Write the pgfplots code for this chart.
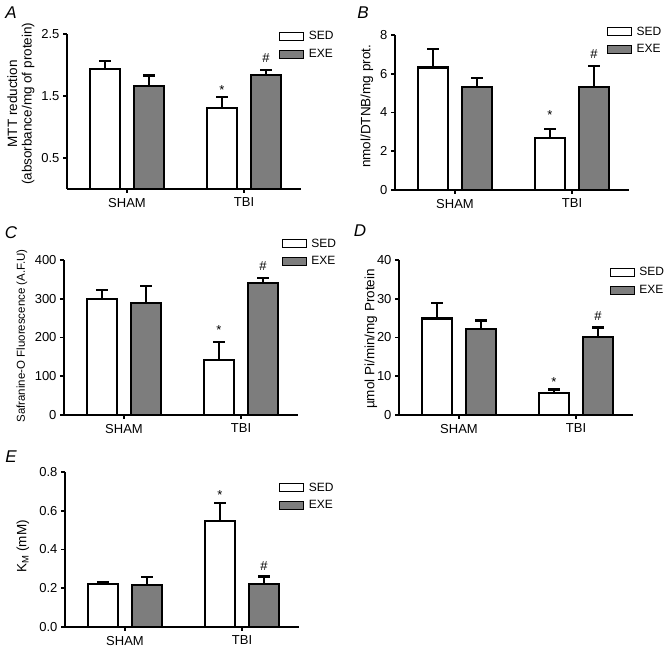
\documentclass[border=0pt]{standalone}
\usepackage{pgfplots}
\pgfplotsset{compat=1.18}
\usepackage{fontspec}
\setmainfont{Liberation Sans}
\definecolor{exegray}{RGB}{125,125,125}
\newcommand{\tickfont}{\fontsize{13}{15}\selectfont}
\newcommand{\labfont}{\fontsize{13.5}{14.5}\selectfont}
\pgfplotsset{
  panel/.style={
    scale only axis, width=234pt, height=155pt,
    axis x line=bottom, axis y line=left,
    axis line style={line width=2pt, -},
    xmin=0, xmax=234, xtick={60,177}, xticklabels={SHAM,TBI},
    tick align=outside, major tick length=4pt,
    tick style={line width=1.8pt, black},
    ymin=0,
    /pgf/number format/assume math mode=true,
    ticklabel style={font=\tickfont},
    xticklabel style={yshift=-1.5pt},
    label style={font=\labfont, align=center},
    legend style={draw=none, fill=none, font=\fontsize{12}{14}\selectfont, inner sep=0pt,
      row sep=4pt, anchor=north west, legend cell align=left},
    error bars/y dir=plus, error bars/y explicit,
    error bars/error bar style={line width=2.2pt, black},
    error bars/error mark options={rotate=90, mark size=6pt, line width=2.2pt, black},
    clip=false,
  },
  sed/.style={ybar, bar width=30, bar shift=0pt, fill=white, draw=black, line width=2.2pt,
    legend image code/.code={\draw[fill=white, draw=black, line width=0.9pt] (0pt,-4pt) rectangle (24pt,4pt); \path (26pt,0pt);}},
  exe/.style={ybar, bar width=30, bar shift=0pt, fill=exegray, draw=black, line width=2.2pt,
    legend image code/.code={\draw[fill=exegray, draw=black, line width=0.9pt] (0pt,-4pt) rectangle (24pt,4pt); \path (26pt,0pt);}},
}
\begin{document}
\begin{tikzpicture}
\useasboundingbox (0,0) rectangle (667pt,650pt);
% Panel A
\begin{axis}[panel, at={(67pt,461pt)}, anchor=south west, ymax=2.5, ytick={0.5,1.5,2.5},
  ylabel={MTT reduction\\(absorbance/mg of protein)},
  ylabel style={at={(axis description cs:-0.197,0.55)}, anchor=center},
  legend style={at={(axis description cs:0.906,1.03)}}]
\addplot[sed] coordinates {(38,1.94) +- (0,0.12) (155,1.30) +- (0,0.19)};
\addplot[exe] coordinates {(82,1.66) +- (0,0.17) (199,1.84) +- (0,0.08)};
\legend{SED,EXE}
\node[font=\tickfont, yshift=-2pt] at (axis cs:155,1.63) {*};
\node[font=\tickfont] at (axis cs:199,2.11) {\#};
\end{axis}
% Panel B
\begin{axis}[panel, at={(395pt,460pt)}, anchor=south west, ymax=8, ytick={0,2,4,6,8},
  ylabel={nmol/DTNB/mg prot.},
  ylabel style={at={(axis description cs:-0.12,0.54)}, anchor=center},
  legend style={at={(axis description cs:0.905,1.067)}}]
\addplot[sed] coordinates {(38,6.32) +- (0,0.95) (155,2.70) +- (0,0.46)};
\addplot[exe] coordinates {(82,5.33) +- (0,0.43) (199,5.33) +- (0,1.06)};
\legend{SED,EXE}
\node[font=\tickfont, yshift=-2pt] at (axis cs:155,3.95) {*};
\node[font=\tickfont] at (axis cs:199,7.04) {\#};
\end{axis}
% Panel C
\begin{axis}[panel, at={(64pt,235pt)}, anchor=south west, ymax=400, ytick={0,100,200,300,400},
  ylabel={Safranine-O Fluorescence (A.F.U)},
  ylabel style={at={(axis description cs:-0.18,0.51)}, anchor=center, font=\fontsize{11.5}{13}\selectfont},
  legend style={at={(axis description cs:0.93,1.152)}}]
\addplot[sed] coordinates {(38,300) +- (0,22) (155,142) +- (0,46)};
\addplot[exe] coordinates {(82,289) +- (0,43) (199,341) +- (0,13)};
\legend{SED,EXE}
\node[font=\tickfont, yshift=-2pt] at (axis cs:155,225) {*};
\node[font=\tickfont] at (axis cs:199,385) {\#};
\end{axis}
% Panel D
\begin{axis}[panel, at={(399pt,235pt)}, anchor=south west, ymax=40, ytick={0,10,20,30,40},
  ylabel={µmol Pi/min/mg Protein},
  ylabel style={at={(axis description cs:-0.12,0.49)}, anchor=center},
  legend style={at={(axis description cs:0.9,0.965)}}]
\addplot[sed] coordinates {(38,24.9) +- (0,3.9) (155,5.6) +- (0,1.0)};
\addplot[exe] coordinates {(82,22.1) +- (0,2.3) (199,20.1) +- (0,2.5)};
\legend{SED,EXE}
\node[font=\tickfont, yshift=-2pt] at (axis cs:155,9.0) {*};
\node[font=\tickfont] at (axis cs:199,25.6) {\#};
\end{axis}
% Panel E
\begin{axis}[panel, at={(65pt,23pt)}, anchor=south west, ymax=0.8, ytick={0,0.2,0.4,0.6,0.8},
  yticklabel style={/pgf/number format/.cd, fixed, fixed zerofill, precision=1},
  ylabel={K\textsubscript{M} (mM)},
  ylabel style={at={(axis description cs:-0.18,0.52)}, anchor=center},
  legend style={at={(axis description cs:0.915,0.945)}}]
\addplot[sed] coordinates {(38,0.221) +- (0,0.011) (155,0.546) +- (0,0.095)};
\addplot[exe] coordinates {(82,0.216) +- (0,0.040) (199,0.221) +- (0,0.040)};
\legend{SED,EXE}
\node[font=\tickfont, yshift=-2pt] at (axis cs:155,0.693) {*};
\node[font=\tickfont] at (axis cs:199,0.313) {\#};
\end{axis}
% Panel letters
\node[font=\fontsize{17}{19}\selectfont\itshape] at (11pt,637pt) {A};
\node[font=\fontsize{17}{19}\selectfont\itshape] at (363pt,637pt) {B};
\node[font=\fontsize{17}{19}\selectfont\itshape] at (11pt,417pt) {C};
\node[font=\fontsize{17}{19}\selectfont\itshape] at (360pt,419pt) {D};
\node[font=\fontsize{17}{19}\selectfont\itshape] at (11pt,193pt) {E};
\end{tikzpicture}
\end{document}
